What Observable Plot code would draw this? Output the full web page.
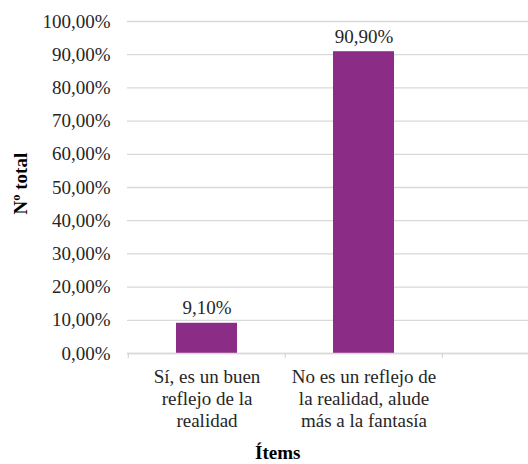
<!DOCTYPE html>
<html>
<head>
<meta charset="utf-8">
<script src="https://cdn.jsdelivr.net/npm/d3@7"></script>
<script src="https://cdn.jsdelivr.net/npm/@observablehq/plot@0.6"></script>
<style>
  html, body { margin: 0; padding: 0; background: #fff; overflow: hidden; width: 528px; height: 464px; }
  #chart { width: 528px; height: 464px; overflow: hidden; position: relative; }
  #chart svg, #chart svg text { font-family: "Liberation Serif", "Times New Roman", serif !important; }
</style>
</head>
<body>
<div id="chart"></div>
<script>
const categories = [
  "Sí, es un buen\nreflejo de la\nrealidad",
  "No es un reflejo de\nla realidad, alude\nmás a la fantasía",
  " "
];
const values = [0.091, 0.909];
const valueLabels = ["9,10%", "90,90%"];
const yTicks = [0, 0.1, 0.2, 0.3, 0.4, 0.5, 0.6, 0.7, 0.8, 0.9, 1.0];
const yLabel = "Nº total";
const xLabel = "Ítems";

const data = values.map((v, i) => ({cat: categories[i], value: v, label: valueLabels[i]}));

const locale = d3.formatLocale({decimal: ",", thousands: ".", grouping: [3], currency: ["", "€"], percent: "%"});
const pct = locale.format(".2%");

const FONT = "Liberation Serif";
const W = 599, H = 464;
const mL = 127, mR = 0, mT = 21, mB = 111;
const step = (W - mL - mR) / categories.length;

const plot = Plot.plot({
  width: W,
  height: H,
  marginLeft: mL,
  marginRight: mR,
  marginTop: mT,
  marginBottom: mB,
  style: {fontFamily: FONT, fontSize: "19px", color: "#262626", background: "#fff", maxWidth: "none", overflow: "visible"},
  x: {domain: categories, padding: 0, label: null},
  y: {domain: [0, 1], label: null},
  marks: [
    Plot.gridY(yTicks, {stroke: "#d9d9d9", strokeOpacity: 1, strokeWidth: 1.3}),
    Plot.barY(data, {x: "cat", y: "value", fill: "#8b2c87", insetLeft: step * 0.305, insetRight: step * 0.305}),
    Plot.ruleY([0], {stroke: "#d9d9d9", strokeWidth: 1.3}),
    Plot.ruleX(categories, {x: d => d, dx: -step / 2, y1: 0, y2: 0, insetBottom: -5, stroke: "#d9d9d9", strokeWidth: 1.3}),
    Plot.axisY(yTicks, {tickSize: 0, tickPadding: 17, tickFormat: pct, fill: "#262626", fontSize: 19, fontFamily: FONT, label: null}),
    Plot.axisX({tickSize: 0, tickPadding: 14, lineHeight: 1.15, fill: "#262626", fontSize: 19, fontFamily: FONT, label: null}),
    Plot.text(data, {x: "cat", y: "value", text: "label", dy: -15, fill: "#262626", fontSize: 19, fontFamily: FONT}),
    Plot.text([yLabel], {frameAnchor: "left", dx: -107, dy: 27, rotate: -90, fontWeight: "bold", fontSize: 19, fontFamily: FONT, fill: "#000", text: d => d}),
  ]
});

document.getElementById("chart").appendChild(plot);

// x axis title
const xt = document.createElement("div");
xt.textContent = xLabel;
xt.style.cssText = "position:absolute;left:255px;top:443px;font:bold 19px 'Liberation Serif','Times New Roman',serif;color:#000;line-height:19px;";
document.getElementById("chart").appendChild(xt);
</script>
</body>
</html>
